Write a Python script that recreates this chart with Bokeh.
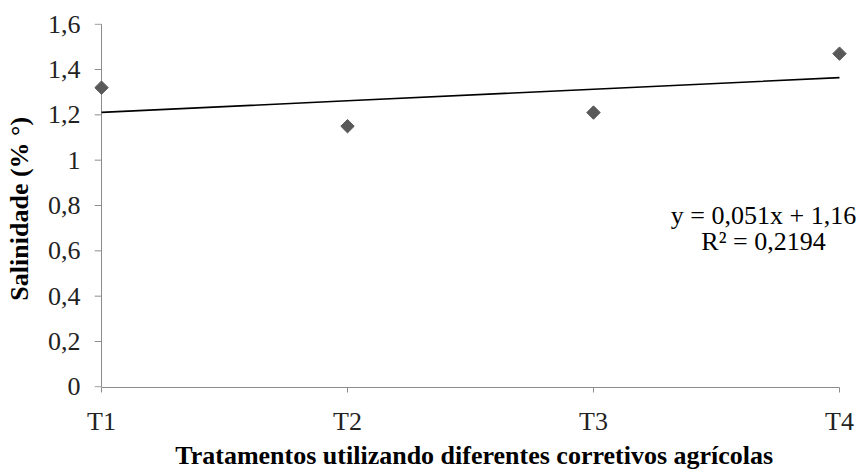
import math
from bokeh.plotting import figure
from bokeh.models import Range1d, FixedTicker, Label
from bokeh.embed import file_html
from bokeh.resources import INLINE

categories = ["T1", "T2", "T3", "T4"]
salinity = [1.32, 1.15, 1.21, 1.47]
slope = 0.051
intercept = 1.16
eq_text = "y = 0,051x + 1,16"
r2_text = "R² = 0,2194"
y_ticks = [0, 0.2, 0.4, 0.6, 0.8, 1.0, 1.2, 1.4, 1.6]
y_tick_labels = ["0", "0,2", "0,4", "0,6", "0,8", "1", "1,2", "1,4", "1,6"]

xs = list(range(1, len(categories) + 1))
trend_y = [slope * x + intercept for x in xs]

FONT = "Liberation Serif"
AXIS_GRAY = "#8c8c8c"
PAD_L = 0.0285
PAD_R = 0.0854
YPAD = 0.003

p = figure(width=863, height=472, output_backend="svg", toolbar_location=None,
           x_range=Range1d(1 - PAD_L, 4 + PAD_R), y_range=Range1d(-YPAD, 1.6 + YPAD),
           min_border_left=94, min_border_right=3, min_border_top=23, min_border_bottom=79)
p.outline_line_color = None
p.xgrid.visible = False
p.ygrid.visible = False
p.background_fill_color = "white"
p.border_fill_color = "white"

# y axis line and ticks at the first category position
x0 = xs[0]
p.segment(x0=[x0], y0=[y_ticks[0]], x1=[x0], y1=[y_ticks[-1]], line_color=AXIS_GRAY, line_width=1)
p.segment(x0=[x0 - PAD_L] * len(y_ticks), y0=y_ticks, x1=[x0] * len(y_ticks), y1=y_ticks,
          line_color=AXIS_GRAY, line_width=1)

p.line(xs, trend_y, line_color="black", line_width=1.6)
p.scatter(xs, salinity, marker="square", angle=math.pi / 4, size=9.5,
          fill_color="#595959", line_color="#595959")

for ax in (p.xaxis[0], p.yaxis[0]):
    ax.axis_line_color = AXIS_GRAY
    ax.major_tick_line_color = AXIS_GRAY
    ax.minor_tick_line_color = None
    ax.major_tick_in = 0
    ax.major_label_text_font = FONT
    ax.major_label_text_font_size = "26px"
    ax.major_label_text_color = "#222222"
    ax.axis_label_text_font = FONT
    ax.axis_label_text_font_style = "bold"
    ax.axis_label_text_color = "#000000"

p.xaxis.ticker = FixedTicker(ticks=xs)
p.xaxis.bounds = (1, 4)
p.xaxis.major_label_overrides = {x: c for x, c in zip(xs, categories)}
p.xaxis.major_tick_out = 5
p.xaxis.major_label_standoff = 14
p.xaxis.axis_label = "Tratamentos utilizando  diferentes corretivos agrícolas"
p.xaxis.axis_label_text_font_size = "26px"
p.xaxis.axis_label_standoff = 2

p.yaxis.ticker = FixedTicker(ticks=y_ticks)
p.yaxis.major_label_overrides = {t: l for t, l in zip(y_ticks, y_tick_labels)}
p.yaxis.axis_line_color = None
p.yaxis.major_tick_line_color = None
p.yaxis.major_tick_out = 0
p.yaxis.major_label_standoff = 14
p.yaxis.axis_label = "Salinidade  (% °)"
p.yaxis.axis_label_text_font_size = "26px"
p.yaxis.axis_label_standoff = 11

p.add_layout(Label(x=3.691, y=0.757, text=eq_text, text_font=FONT, text_font_size="26px",
                   text_align="center", text_baseline="middle", text_color="#000000"))
p.add_layout(Label(x=3.691, y=0.640, text=r2_text, text_font=FONT, text_font_size="26px",
                   text_align="center", text_baseline="middle", text_color="#000000"))

open("out.html", "w").write(file_html(p, INLINE))
